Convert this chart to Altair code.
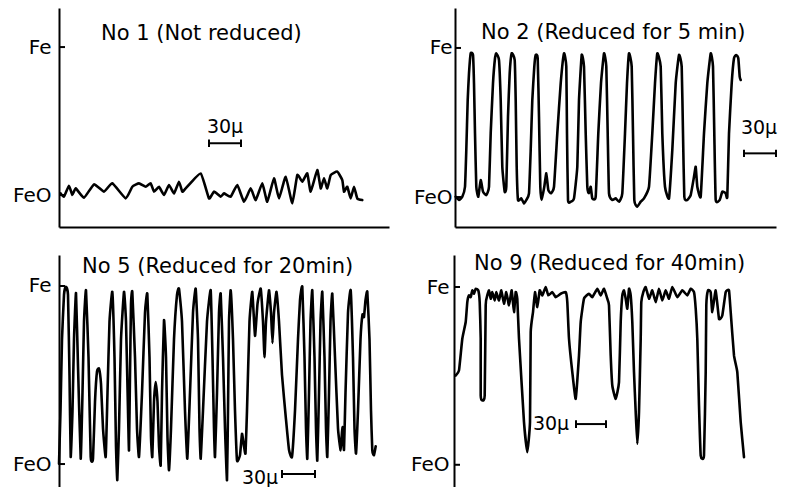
import altair as alt
import pandas as pd

FONT = "DejaVu Sans"

# ---- traces: x = distance along scan (μm), y = signal (FeO level = 0, Fe level = 100)
p1_x = [1.7, 5, 10, 13.3, 16.7, 25, 35, 45, 53.3, 66.7, 73.3, 80, 86.7, 91.7, 95, 100, 105, 110,
        115, 120, 123.3, 126.7, 141.7, 150, 155, 161.7, 165, 171.7, 178.3, 185, 191.7, 196.7,
        203.3, 208.3, 215, 220, 226.7, 233.3, 238.3, 243.3, 248.3, 251.7, 258.3, 261.7, 265,
        268.3, 271.7, 278.3, 283.3, 285, 288.3, 291.7, 295, 298.3, 303.3]
p1_y = [1.1, -1.1, 6.3, 0, 4.5, -1.8, 7.2, 2.3, 7.9, -2.3, 5.6, 7.9, 5.6, 7.9, 2.3, 5.6, 0, 6.8,
        1.1, 9, 2.3, 4.5, 14.6, -2.3, 2.3, -1.1, 1.1, -1.1, 6.8, -4.5, 4.5, -3.4,
        7.9, -4.5, 11.3, -2.3, 12.4, -5.6, 13.5, 9, 14.6, 2.3, 16.9, 4.5, 11.3,
        4.5, 13.5, 15.8, 10.1, 2.3, 5.6, -2.3, 5.6, -2.3, -3.4]

p2_x = [0.7, 4, 7.3, 10, 11.3, 12.7, 14, 15.7, 18, 19, 20, 21.3, 23.3, 25.7, 28, 31.3, 34, 35.7,
        38, 40, 41.3, 44, 45.7, 47.3, 49.7, 51.3, 53, 54.7, 56.7, 59.7, 60.7, 61.7, 63, 66.3,
        69, 71.3, 74, 75.7, 77.3, 79.3, 80.7, 82.7, 84, 85.3, 86.7, 89.3, 91.3, 93.3, 96, 99,
        102.3, 105.7, 109, 111.3, 112, 113, 115.7, 119, 122.3, 124, 126.7, 129, 130.7, 132.3,
        134, 135.7, 137.3, 140.7, 143.3, 146, 149, 151.3, 152.7, 154, 157.3, 160.7, 164, 167.3,
        170, 172, 174, 176.7, 178, 179.3, 182.3, 185.7, 189, 194, 197.3, 200, 202.3, 205.7,
        207.3, 210, 214, 217.3, 220.7, 224, 226.7, 228, 229.3, 232.3, 235.7, 239, 240.7, 242.3,
        245.7, 249, 252.3, 255.7, 258, 259.3, 260.7, 264.7, 267.3, 270.7, 272.3, 274, 276.7,
        279, 281.3, 283.3, 284.7, 285.7]
p2_y = [0.2, -2, 0.2, 6.9, 31.5, 65, 83, 96.4, 95.3, 76.3, 42.7, 6.9, 0.2, 11.4, 3.6, 1.3, 6.9, 42.7,
        76.3, 93.1, 96.4, 91.9, 65, 20.3, 3.6, 6.9, 53.9, 83, 96.4, 91.9, 65, 20.3, -2, -0.9,
        -4.3, -2, 2.5, 31.5, 65, 87.5, 95.3, 93.1, 53.9, 6.9, -2, 6.9, 15.9, 4.7, 2.5, 6.9,
        42.7, 76.3, 96.4, 87.5, 42.7, -2, -3.1, -0.9, 20.3, 65, 95.3, 87.5, 42.7, 6.9,
        2.5, 6.9, -0.9, 0.2, 42.7, 76.3, 96.4, 87.5, 42.7, 2.5, -2, -0.9, -3.1, 2.5,
        42.7, 76.3, 96.4, 87.5, 42.7, -2, -6.5, -3.1, -0.9, 6.9, 42.7, 76.3, 96.4, 87.5,
        42.7, 6.9, -0.9, 31.5, 76.3, 95.3, 87.5, 42.7, 0.2, -2, 1.3, 13.6, 20.3, 6.9,
        0.2, 42.7, 76.3, 96.4, 87.5, 42.7, -2, -2, 3.6, 2.5, 0.2, 42.7, 76.3,
        93.1, 95.3, 93.1, 80.8, 78.5]

p3_x = [0, 1.5, 3, 5, 6.7, 9, 10.5, 11.7, 13.5, 15, 17, 19, 21.7, 23.5, 25, 27, 29.5, 31.7, 34, 36,
        38, 40, 42, 44, 46.7, 48.5, 50.5, 53.3, 55.5, 57, 58.3, 60, 62, 65, 67, 69, 70, 71, 72,
        73.3, 76, 78, 80, 83, 86, 88.3, 90.5, 92, 93.3, 95, 96.7, 98.5, 100, 101.7, 103, 105,
        107, 108.5, 110, 112, 115, 118, 120, 123, 126, 128.3, 131, 134, 136.7, 139, 140.5,
        141.7, 144, 148, 151.7, 153.5, 155, 156, 158, 160, 161.7, 164, 166, 168, 169, 170,
        171.7, 174, 176, 178, 181, 183, 185, 186.5, 188, 190.5, 193.3, 196, 198.5, 201.7, 204,
        205.5, 207, 210, 212, 213.5, 215, 217.5, 220, 223, 227, 230, 233, 236, 239, 241, 243.3,
        245.5, 247, 248.3, 250, 251.5, 253.3, 255.5, 257, 258.3, 260, 261.5, 263.3, 265.5, 267,
        268.3, 270, 271.5, 273.3, 276, 279, 281.7, 283.3, 285, 286.5, 289, 291.7, 294, 295.5,
        297, 299, 301.5, 303.5, 305, 306.5, 308.3, 310.5, 312, 313.3, 315, 316.7]
p3_y = [0.2, 30, 70, 95, 99.5, 95, 50, 4, 30, 70, 96, 55, 3, 40, 80, 97.6, 60, 4, 3, 35,
        52, 53.6, 45, 20, 4, 40, 80, 96.7, 60, 10, -9, 20, 70, 96.7, 80, 30, 7.7, 50, 90,
        96.7, 60, 20, 4, 40, 85, 95.7, 60, 15, 4, 35, 46, 35, 10, -0.7, 40, 80.8,
        60, 15, -3.5, 20, 70, 95, 98.5, 80, 30, 3, 40, 85, 98.5, 70, 20,
        3, 30, 80, 97.6, 60, 20, 4, 40, 85, 95.7, 60, 20, -9.1, 30, 80,
        97.6, 70, 30, 2, 5, 17, 10, 6, 30, 80, 96.7, 72, 90, 98.5, 80,
        60, 80, 97.6, 85, 68, 85, 96.7, 80, 50, 25, 8, 4, 30, 70, 92, 99.5,
        60, 20, 3, 40, 80, 97.6, 60, 20, 2, 40, 80, 96.7, 60, 20,
        4, 40, 80, 95.7, 60, 20, 7.7, 20.8, 8, 40, 85, 97.6, 60, 20,
        5.9, 30, 70, 84, 82.6, 92, 96.7, 70, 30, 7.7, 5, 10]

p4_x = [1.7, 5, 8.3, 11.7, 13.3, 15, 16.7, 18.3, 20, 21.7, 24.3, 25.7, 26.7, 26.7, 28.3, 30.7, 31.7,
        33.3, 35, 36.7, 38.3, 40.7, 42.3, 45, 47.3, 50, 52.3, 55, 57.7, 60, 61.7, 63.3, 65, 70,
        73.3, 76, 76.7, 79, 81, 83.3, 85.7, 88.3, 91.7, 94.3, 98.3, 101.7, 106.7, 111.7, 113.3,
        115, 118.3, 121.7, 125, 126.7, 130, 135, 138.3, 143.3, 146.7, 150, 153.3, 155, 156.7,
        158.3, 161.7, 165, 166.7, 168.3, 170, 171.7, 173.3, 175, 176.7, 178.3, 180, 181.7,
        183.3, 185, 186.7, 187.3, 189.3, 191.7, 195, 198.3, 201.7, 205, 208.3, 211.7, 215,
        218.3, 223.3, 228.3, 233.3, 236.7, 240, 241.7, 243.3, 245, 246.7, 250, 251.7, 252.3,
        254, 256.7, 258.3, 261.7, 265, 268.3, 271.7, 275, 276.7, 280, 283.3, 286.7, 290]
p4_y = [50.2, 53.1, 70.9, 80.3, 91.5, 95.3, 94.3, 98.1, 96.2, 99, 98.1, 91.5, 70.9, 39, 36.2, 39, 89.7,
        95.3, 98.1, 93.4, 97.1, 92.4, 97.1, 92.4, 98.1, 90.6, 97.1, 89.7, 98.1, 85.9, 97.1, 93.4, 70.9, 24,
        7.1, 24, 74.6, 85.9, 97.1, 88.7, 98.1, 95.3, 100, 95.3, 97.1, 94.3, 96.2, 97.1, 91.5,
        70.9, 52.1, 37.1, 61.5, 80.3, 93.4, 96.2, 94.3, 99, 95.3, 99, 93.4, 89.7, 61.5,
        44.6, 37.1, 46.5, 80.3, 95.3, 98.1, 93.4, 87.8, 99, 95.3, 80.3, 52.1, 29.6,
        11.8, 29.6, 70.9, 91.5, 97.1, 100, 93.4, 98.1, 91.5, 99, 92.4, 98.1, 93.4,
        100, 94.3, 98.1, 95.3, 99, 97.1, 87.8, 70.9, 33.4, 5.2, 5.2, 52.1, 89.7,
        98.1, 97.1, 85.9, 98.1, 82.1, 84, 97.1, 98.1, 85.9, 61.5, 52.1, 24, 4.3]

titles = ["No 1 (Not reduced)", "No 2 (Reduced for 5 min)",
          "No 5 (Reduced for 20min)", "No 9 (Reduced for 40min)"]
title_x = [42, 26, 23, 20]
title_y = [109.1, 110, 110.7, 113.1]

# scale bars (30 μm): start, end, level, label position
bar_x1 = [150, 289, 223, 122]
bar_x2 = [182, 321, 256, 152]
bar_y = [35, 29.3, -5.6, 22.9]
bar_cap = [2.5, 2.5, 2.2, 2.2]
bar_lx = [166, 304, 201, 97]
bar_ly = [46, 46.6, -8.0, 22.9]

levels = [0, 100]


def panel(k, xs, ys, width, height, xdom, ydom, label_pad, show_x):
    df = pd.DataFrame({"x": xs, "y": ys, "i": list(range(len(xs)))})
    xaxis = (alt.Axis(ticks=False, labels=False, title=None, grid=False,
                      domainColor="black", domainWidth=2)
             if show_x else None)
    yaxis = alt.Axis(values=levels,
                     labelExpr="datum.value == 100 ? 'Fe' : 'FeO'",
                     ticks=False, tickSize=0, labelPadding=label_pad,
                     labelFont=FONT, labelFontSize=20, labelColor="black",
                     domainColor="black", domainWidth=2, grid=False, title=None)
    xs_ = alt.Scale(domain=xdom, nice=False, zero=False)
    ys_ = alt.Scale(domain=ydom, nice=False, zero=False)
    line = alt.Chart(df).mark_line(
        color="black", strokeWidth=2.6, interpolate="cardinal", tension=0.6,
        strokeJoin="round", strokeCap="round"
    ).encode(
        x=alt.X("x:Q", scale=xs_, axis=xaxis),
        y=alt.Y("y:Q", scale=ys_, axis=yaxis),
        order="i:Q",
    )
    tdf = pd.DataFrame({"x": [0, 0], "x2": [6, 6], "y": levels})
    ticks = alt.Chart(tdf).mark_rule(color="black", strokeWidth=2).encode(
        x="x:Q", x2="x2:Q", y="y:Q")
    bdf = pd.DataFrame({"x": [bar_x1[k]], "x2": [bar_x2[k]], "y": [bar_y[k]]})
    bar = alt.Chart(bdf).mark_rule(color="black", strokeWidth=2).encode(
        x="x:Q", x2="x2:Q", y="y:Q")
    cdf = pd.DataFrame({"x": [bar_x1[k], bar_x2[k]],
                        "y": [bar_y[k] - bar_cap[k]] * 2,
                        "y2": [bar_y[k] + bar_cap[k]] * 2})
    caps = alt.Chart(cdf).mark_rule(color="black", strokeWidth=2).encode(
        x="x:Q", y="y:Q", y2="y2:Q")
    ldf = pd.DataFrame({"x": [bar_lx[k]], "y": [bar_ly[k]], "t": ["30μ"]})
    blabel = alt.Chart(ldf).mark_text(
        font=FONT, fontSize=19, color="black", align="center", baseline="middle"
    ).encode(x="x:Q", y="y:Q", text="t:N")
    ttl = pd.DataFrame({"x": [title_x[k]], "y": [title_y[k]], "t": [titles[k]]})
    title = alt.Chart(ttl).mark_text(
        font=FONT, fontSize=21, color="black", align="left", baseline="middle"
    ).encode(x="x:Q", y="y:Q", text="t:N")
    return alt.layer(line, ticks, bar, caps, blabel, title).properties(
        width=width, height=height)


p1 = panel(0, p1_x, p1_y, 330, 219, [0, 330], [-21.6, 126.4], 8, True)
p2 = panel(1, p2_x, p2_y, 321, 219, [0, 321], [-20.1, 126.8], 3, True)
p3 = panel(2, p3_x, p3_y, 330, 232, [0, 330], [-12.9, 117.4], 8, False)
p4 = panel(3, p4_x, p4_y, 325, 232, [0, 325], [-12.5, 118.0], 5, False)

row1 = alt.hconcat(p1, p2, spacing=66, bounds="flush")
row2 = alt.hconcat(p3, p4, spacing=65, bounds="flush")
chart = alt.vconcat(row1, row2, spacing=25).properties(
    padding={"left": 12, "top": 8, "right": 0, "bottom": 0},
    background="white",
).configure_view(stroke=None)

chart.save("out.html", embed_options={"renderer": "svg", "actions": False})
